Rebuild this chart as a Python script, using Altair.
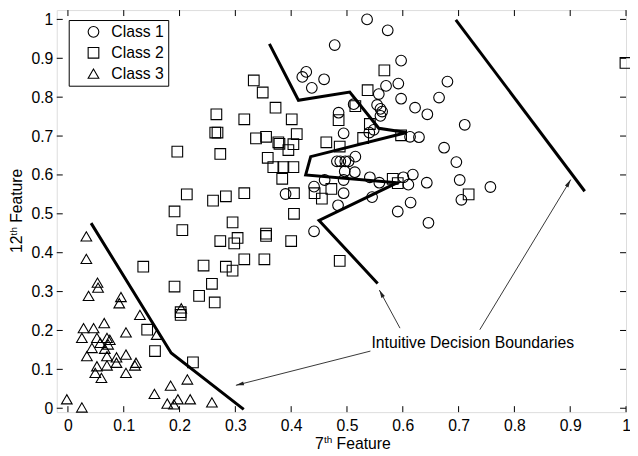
import math
import altair as alt
import pandas as pd

FONT = "Liberation Sans"

# ---------------- data ----------------
class1_x = [0.536, 0.573, 0.478, 0.597, 0.427, 0.420, 0.459, 0.437, 0.592, 0.680,
            0.570, 0.557, 0.665, 0.597, 0.512, 0.554, 0.560, 0.563, 0.560, 0.622,
            0.644, 0.485, 0.711, 0.494, 0.540, 0.548, 0.613, 0.629, 0.674, 0.696,
            0.515, 0.482, 0.488, 0.497, 0.503, 0.496, 0.514, 0.460, 0.494, 0.541,
            0.558, 0.601, 0.618, 0.610, 0.643, 0.702, 0.705, 0.757, 0.441, 0.390,
            0.494, 0.545, 0.484, 0.614, 0.591, 0.646, 0.441]
class1_y = [1.000, 0.972, 0.934, 0.894, 0.865, 0.852, 0.846, 0.824, 0.835, 0.840,
            0.829, 0.808, 0.799, 0.796, 0.782, 0.780, 0.770, 0.763, 0.752, 0.773,
            0.756, 0.760, 0.729, 0.707, 0.709, 0.716, 0.698, 0.697, 0.670, 0.633,
            0.647, 0.635, 0.635, 0.635, 0.635, 0.609, 0.607, 0.587, 0.587, 0.594,
            0.580, 0.594, 0.601, 0.575, 0.580, 0.587, 0.536, 0.569, 0.570, 0.551,
            0.553, 0.543, 0.522, 0.529, 0.506, 0.477, 0.455]

class2_x = [0.333, 0.349, 0.372, 0.401, 0.266, 0.316, 0.264, 0.268, 0.196, 0.273,
            0.337, 0.355, 0.377, 0.379, 0.404, 0.395, 0.410, 0.358, 0.368, 0.386,
            0.404, 0.384, 0.213, 0.260, 0.283, 0.316, 0.405, 0.405, 0.191, 0.295,
            0.205, 0.355, 0.355, 0.273, 0.304, 0.298, 0.400, 0.135, 0.243, 0.283,
            0.295, 0.316, 0.352, 0.191, 0.258, 0.235, 0.263, 0.202, 0.202, 0.142,
            0.156, 0.224, 0.567, 0.537, 0.515, 0.485, 0.541, 0.463, 0.487, 0.529,
            0.597, 0.442, 0.455, 0.472, 0.582, 0.591, 0.718, 0.999, 0.487]
class2_y = [0.843, 0.812, 0.773, 0.743, 0.756, 0.743, 0.709, 0.709, 0.660, 0.654,
            0.694, 0.698, 0.684, 0.680, 0.679, 0.664, 0.705, 0.644, 0.620, 0.620,
            0.620, 0.590, 0.550, 0.534, 0.545, 0.553, 0.553, 0.500, 0.506, 0.478,
            0.458, 0.449, 0.443, 0.430, 0.438, 0.424, 0.430, 0.364, 0.367, 0.364,
            0.354, 0.383, 0.383, 0.313, 0.320, 0.289, 0.272, 0.247, 0.240, 0.202,
            0.147, 0.118, 0.869, 0.818, 0.777, 0.741, 0.731, 0.684, 0.673, 0.695,
            0.702, 0.553, 0.539, 0.564, 0.590, 0.579, 0.550, 0.888, 0.379]

class3_x = [0.033, 0.033, 0.053, 0.054, 0.037, 0.095, 0.092, 0.129, 0.203, 0.028,
            0.046, 0.065, 0.104, 0.025, 0.052, 0.070, 0.075, 0.058, 0.072, 0.043,
            0.066, 0.034, 0.070, 0.087, 0.104, 0.122, 0.120, 0.070, 0.087, 0.052,
            0.049, 0.060, 0.104, -0.002, 0.025, 0.159, 0.155, 0.184, 0.178, 0.197,
            0.190, 0.214, 0.219, 0.258]
class3_y = [0.442, 0.384, 0.323, 0.310, 0.289, 0.286, 0.270, 0.240, 0.257, 0.206,
            0.206, 0.219, 0.195, 0.181, 0.181, 0.181, 0.176, 0.168, 0.164, 0.155,
            0.153, 0.134, 0.134, 0.131, 0.138, 0.117, 0.110, 0.110, 0.117, 0.108,
            0.091, 0.078, 0.091, 0.023, 0.002, 0.189, 0.037, 0.058, 0.012, 0.023,
            0.010, 0.074, 0.023, 0.015]

class_names = ["Class 1", "Class 2", "Class 3"]

boundary1_x = [0.0415, 0.185, 0.315]
boundary1_y = [0.476, 0.142, -0.003]
boundary2_x = [0.361, 0.413, 0.505, 0.557, 0.607, 0.435, 0.426, 0.590, 0.450, 0.555]
boundary2_y = [0.937, 0.792, 0.813, 0.720, 0.709, 0.647, 0.600, 0.580, 0.483, 0.321]
boundary3_x = [0.695, 0.926]
boundary3_y = [0.999, 0.558]

arrow_tail_x = [0.542, 0.595, 0.738]
arrow_tail_y = [0.147, 0.206, 0.202]
arrow_head_x = [0.301, 0.558, 0.901]
arrow_head_y = [0.059, 0.304, 0.588]
annotation_text = ["Intuitive Decision Boundaries"]
annotation_x = [0.7255]
annotation_y = [0.169]

tick_values = [0.0, 0.1, 0.2, 0.3, 0.4, 0.5, 0.6, 0.7, 0.8, 0.9, 1.0]

# ---------------- layout ----------------
W, H = 572, 404
XDOM = [-0.02, 1.0]
YDOM = [-0.01, 1.024]
FS = 15.8

pts = pd.DataFrame({
    "x": class1_x + class2_x + class3_x,
    "y": class1_y + class2_y + class3_y,
    "cls": [class_names[0]] * len(class1_x) + [class_names[1]] * len(class2_x)
           + [class_names[2]] * len(class3_x),
})

rows = []
for k, (bx, by) in enumerate([(boundary1_x, boundary1_y), (boundary2_x, boundary2_y),
                              (boundary3_x, boundary3_y)]):
    for i, (a, b) in enumerate(zip(bx, by)):
        rows.append({"x": a, "y": b, "line": k, "ord": i})
bound = pd.DataFrame(rows)

arows = []
for k in range(len(arrow_tail_x)):
    arows.append({"x": arrow_tail_x[k], "y": arrow_tail_y[k], "line": k, "ord": 0})
    arows.append({"x": arrow_head_x[k], "y": arrow_head_y[k], "line": k, "ord": 1})
arrows = pd.DataFrame(arows)

sx = W / (XDOM[1] - XDOM[0])
sy = H / (YDOM[1] - YDOM[0])
angs = []
for k in range(len(arrow_tail_x)):
    dx = (arrow_head_x[k] - arrow_tail_x[k]) * sx
    dy = -(arrow_head_y[k] - arrow_tail_y[k]) * sy
    angs.append(math.degrees(math.atan2(dx, -dy)) % 360)
heads = pd.DataFrame({"x": arrow_head_x, "y": arrow_head_y, "ang": angs})

ann = pd.DataFrame({"x": annotation_x, "y": annotation_y, "t": annotation_text})
ticks = pd.DataFrame({"x": tick_values, "y": tick_values})

xscale = alt.Scale(domain=XDOM, nice=False, zero=False)
yscale = alt.Scale(domain=YDOM, nice=False, zero=False)
xaxis = alt.Axis(values=tick_values, format="~g", title=None, grid=False, ticks=False,
                 tickSize=0, domain=False, labelPadding=6, labelFont=FONT,
                 labelFontSize=FS, labelColor="black", labelFlush=False, labelOverlap=False)
yaxis = alt.Axis(values=tick_values, format="~g", title=None, grid=False, ticks=False,
                 tickSize=0, domain=False, labelPadding=4, labelFont=FONT,
                 labelFontSize=FS, labelColor="black", labelFlush=False, labelOverlap=False)
X = alt.X("x:Q", scale=xscale, axis=xaxis)
Y = alt.Y("y:Q", scale=yscale, axis=yaxis)

points = alt.Chart(pts).mark_point(filled=False, color="black", strokeWidth=1.1,
                                   size=115, opacity=1).encode(
    x=X, y=Y,
    shape=alt.Shape("cls:N",
                    scale=alt.Scale(domain=class_names,
                                    range=["circle", "square", "triangle-up"]),
                    legend=alt.Legend(orient="none", legendX=12, legendY=10, title=None,
                                      strokeColor="black", fillColor="white", padding=4,
                                      symbolOffset=13, labelOffset=10, rowPadding=4,
                                      labelFont=FONT, labelFontSize=FS, labelColor="black",
                                      symbolSize=115, symbolStrokeWidth=1.1,
                                      symbolStrokeColor="black",
                                      symbolFillColor="transparent")),
)

bounds = alt.Chart(bound).mark_line(color="black", strokeWidth=3, strokeJoin="miter").encode(
    x=X, y=Y, detail="line:N", order="ord:Q")

arrow_lines = alt.Chart(arrows).mark_line(color="#222", strokeWidth=0.9).encode(
    x=X, y=Y, detail="line:N", order="ord:Q")

arrow_heads = alt.Chart(heads).mark_point(shape="M0,0 L0.5,2 L-0.5,2 Z", filled=True,
                                          color="#222", size=64, opacity=1).encode(
    x=X, y=Y, angle=alt.Angle("ang:Q", scale=None))

ann_text = alt.Chart(ann).mark_text(font=FONT, fontSize=FS, color="black",
                                    align="center", baseline="middle").encode(
    x=X, y=Y, text="t:N")

tick_len = 6
bottom_ticks = alt.Chart(ticks).mark_rule(color="black").encode(
    x=X, y=alt.value(H), y2=alt.value(H - tick_len))
top_ticks = alt.Chart(ticks).mark_rule(color="black").encode(
    x=X, y=alt.value(0), y2=alt.value(tick_len))
left_ticks = alt.Chart(ticks).mark_rule(color="black").encode(
    y=Y, x=alt.value(0), x2=alt.value(tick_len))
right_ticks = alt.Chart(ticks).mark_rule(color="black").encode(
    y=Y, x=alt.value(W), x2=alt.value(W - tick_len))

dummy = pd.DataFrame({"d": [0]})


def label(txt, px, py, size, angle=0):
    kw = dict(font=FONT, fontSize=size, color="black", align="left", baseline="alphabetic")
    if angle:
        kw["angle"] = angle
    return alt.Chart(dummy).mark_text(**kw).encode(
        x=alt.value(px), y=alt.value(py), text=alt.value(txt))


titles = [
    label("7", 259.5, 441, FS),
    label("th", 268.4, 435, 10),
    label("Feature", 281.2, 441, FS),
    label("12", -34.5, 244, FS, 270),
    label("th", -40, 226.4, 10, 270),
    label("Feature", -34.5, 213.8, FS, 270),
]

chart = alt.layer(
    bottom_ticks, top_ticks, left_ticks, right_ticks,
    points, bounds, arrow_lines, arrow_heads, ann_text, *titles
).properties(
    width=W, height=H,
    autosize=alt.AutoSizeParams(type="none"),
    padding={"left": 49, "top": 1, "right": 4, "bottom": 43},
).configure_view(stroke="black", strokeWidth=1).configure(background="white")

chart.save("out.html", embed_options={"renderer": "svg", "actions": False})
